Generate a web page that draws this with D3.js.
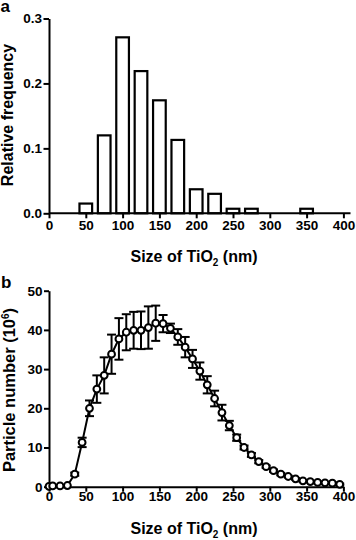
<!DOCTYPE html>
<html><head><meta charset="utf-8">
<script src="https://cdn.jsdelivr.net/npm/d3@7"></script>
<style>
body{margin:0;background:#fff;}
text{font-family:"Liberation Sans",Arial,Helvetica,sans-serif;font-weight:bold;fill:#000;}
</style></head><body>
<svg id="c" width="356" height="540"></svg>
<script>
// Panel a: histogram
const binCenters = [50, 75, 100, 125, 150, 175, 200, 225, 250, 275, 350];
const relFreq = [0.015, 0.120, 0.271, 0.219, 0.174, 0.113, 0.037, 0.030, 0.007, 0.007, 0.007];
const xTicks = [0, 50, 100, 150, 200, 250, 300, 350, 400];
const yTicksA = [0.0, 0.1, 0.2, 0.3];

// Panel b: particle number with error bars
const sizes = [0,5,15,25,35,45,55,65,75,85,95,105,115,125,135,145,155,165,175,185,195,205,215,225,235,245,255,265,275,285,295,305,315,325,335,345,355,365,375,385,395];
const counts = [0.1,0.2,0.2,0.3,3.2,11.3,20.0,24.9,28.4,33.8,37.7,39.4,39.9,39.9,40.6,41.7,41.6,40.4,38.2,35.6,32.6,29.5,26.0,22.5,18.9,15.6,12.5,10.0,8.1,6.4,5.1,4.1,3.2,2.6,2.0,1.5,1.3,1.1,1.0,0.9,0.6];
const errs = [0,0,0,0,0.4,1.2,2.0,3.5,4.6,5.0,5.3,4.6,4.7,4.8,5.4,4.5,2.2,1.2,2.0,2.6,2.3,2.2,2.2,2.0,2.0,1.2,0.8,0.5,0.5,0.4,0.3,0.3,0.3,0.2,0.2,0.2,0.2,0.2,0.2,0.2,0.2];
const yTicksB = [0, 10, 20, 30, 40, 50];

const svg = d3.select("#c");
const x = d3.scaleLinear().domain([0, 400]).range([49, 343.4]);

function styleAxis(g){
  g.select(".domain").attr("stroke","#000").attr("stroke-width",2);
  g.selectAll(".tick line").attr("stroke","#000").attr("stroke-width",2);
  g.selectAll(".tick text").attr("font-size","13.5px").attr("font-weight","bold")
   .attr("font-family",'"Liberation Sans",Arial,sans-serif').attr("fill","#000");
}

// ---------- Panel a ----------
const yA = d3.scaleLinear().domain([0, 0.3]).range([213.3, 18.5]);
const ga = svg.append("g");
ga.selectAll("rect.bar").data(binCenters).join("rect")
  .attr("class","bar")
  .attr("x", d => x(d - 8.6))
  .attr("width", d => x(d + 8.6) - x(d - 8.6))
  .attr("y", (d,i) => yA(relFreq[i]))
  .attr("height", (d,i) => yA(0) - yA(relFreq[i]))
  .attr("fill","#fff").attr("stroke","#000").attr("stroke-width",2.2);

const axA = ga.append("g").attr("transform","translate(0,213.3)")
  .call(d3.axisBottom(x).tickValues(xTicks).tickSize(5).tickPadding(2).tickSizeOuter(0))
  .call(styleAxis);
axA.select(".domain").attr("d", "M49,0H350.5");
ga.append("g").attr("transform","translate(49,0)")
  .call(d3.axisLeft(yA).tickValues(yTicksA).tickFormat(d3.format(".1f")).tickSize(5.5).tickPadding(1.5).tickSizeOuter(0))
  .call(styleAxis);

svg.append("text").attr("x",0.5).attr("y",12).attr("font-size","17px").text("a");
svg.append("text").attr("transform","translate(13,115) rotate(-90)").attr("text-anchor","middle")
  .attr("font-size","16px").text("Relative frequency");
const ta = svg.append("text").attr("x",194).attr("y",262).attr("text-anchor","middle").attr("font-size","16px");
ta.append("tspan").text("Size of TiO");
ta.append("tspan").attr("font-size","10px").attr("dy",4).text("2");
ta.append("tspan").attr("dy",-4).text(" (nm)");

// ---------- Panel b ----------
const yB = d3.scaleLinear().domain([0, 50]).range([486.7, 290.7]);
const gb = svg.append("g");
gb.append("g").attr("transform","translate(0,486.7)")
  .call(d3.axisBottom(x).tickValues(xTicks).tickSize(5).tickPadding(0).tickSizeOuter(0))
  .call(styleAxis);
gb.append("g").attr("transform","translate(49,0)")
  .call(d3.axisLeft(yB).tickValues(yTicksB).tickSize(5).tickPadding(1.5).tickSizeOuter(0))
  .call(styleAxis);

const pts = sizes.map((s,i) => ({s, v: counts[i], e: errs[i]}));
// error bars
const eb = gb.append("g").attr("stroke","#000").attr("stroke-width",2).attr("fill","none");
pts.filter(p => p.e > 0).forEach(p => {
  const cx = x(p.s);
  eb.append("line").attr("x1",cx).attr("x2",cx).attr("y1",yB(p.v + p.e)).attr("y2",yB(p.v - p.e));
  eb.append("line").attr("x1",cx-4.5).attr("x2",cx+4.5).attr("y1",yB(p.v + p.e)).attr("y2",yB(p.v + p.e));
  eb.append("line").attr("x1",cx-4.5).attr("x2",cx+4.5).attr("y1",yB(p.v - p.e)).attr("y2",yB(p.v - p.e));
});
// line
gb.append("path").datum(pts)
  .attr("d", d3.line().x(p => x(p.s)).y(p => yB(p.v)))
  .attr("fill","none").attr("stroke","#000").attr("stroke-width",2);
// circles
gb.selectAll("circle").data(pts).join("circle")
  .attr("cx", p => x(p.s)).attr("cy", p => yB(p.v)).attr("r", 3.4)
  .attr("fill","#fff").attr("stroke","#000").attr("stroke-width",2);

svg.append("text").attr("x",1).attr("y",288).attr("font-size","17px").text("b");
const tby = svg.append("text").attr("transform","translate(14.5,390) rotate(-90)").attr("text-anchor","middle")
  .attr("font-size","16.5px");
tby.append("tspan").text("Particle number (10");
tby.append("tspan").attr("font-size","10px").attr("dy",-6).text("6");
tby.append("tspan").attr("dy",6).text(")");
const tb = svg.append("text").attr("x",194).attr("y",533.5).attr("text-anchor","middle").attr("font-size","16px");
tb.append("tspan").text("Size of TiO");
tb.append("tspan").attr("font-size","10px").attr("dy",4).text("2");
tb.append("tspan").attr("dy",-4).text(" (nm)");
</script>
</body></html>
